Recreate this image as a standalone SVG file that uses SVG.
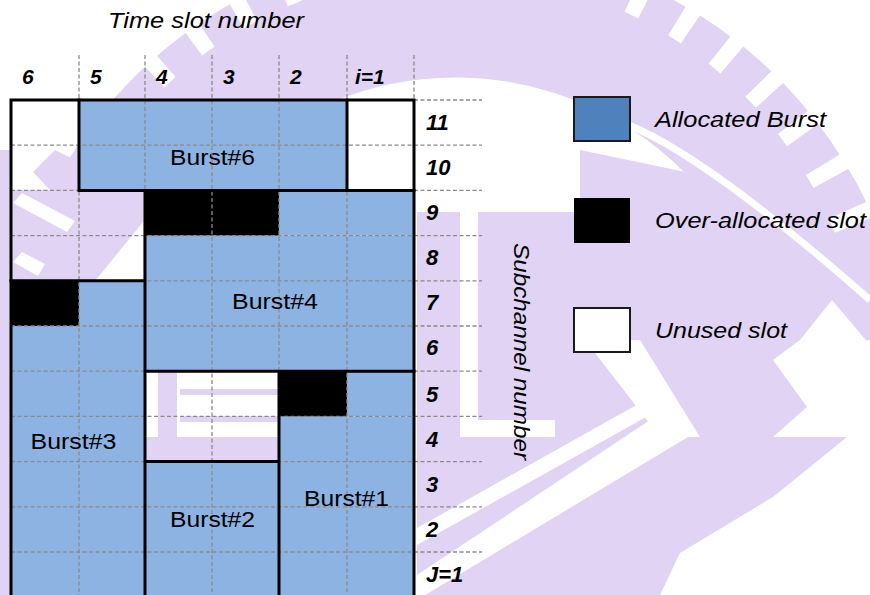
<svg xmlns="http://www.w3.org/2000/svg" width="870" height="595" viewBox="0 0 870 595">
<style>
.wm{fill:#e0d3f4}
.wmw{fill:#ffffff}
.blue{fill:#8db3e2}
.blk{fill:#000000}
.dash{stroke:#8a8a8a;stroke-width:1.3;stroke-dasharray:4 2.5;fill:none}
.thick{stroke:#000000;stroke-width:3;fill:none;stroke-linecap:square}
.hdr{font-family:"Liberation Sans",Arial,sans-serif;font-weight:bold;font-style:italic;font-size:21px;fill:#000}
.row{font-family:"Liberation Sans",Arial,sans-serif;font-weight:bold;font-style:italic;font-size:22px;fill:#000}
.lbl{font-family:"Liberation Sans",Arial,sans-serif;font-size:22px;fill:#000;text-anchor:middle}
.it{font-family:"Liberation Sans",Arial,sans-serif;font-style:italic;font-size:22px;fill:#000}
</style>
<rect width="870" height="595" fill="#ffffff"/>

<g id="watermark">
  <path d="M118.7,595.8 A389.5,389.5 0 1 1 832,300" fill="none" stroke="#e0d3f4" stroke-width="133"/>
  <path class="wm" d="M580,150 L700,175 L870,255 L870,345 L832,300 L720,212 L580,212 Z"/>
  <path d="M150,72 A436,436 0 0 1 860,240" fill="none" stroke="#ffffff" stroke-width="42" stroke-dasharray="16 36"/>
  <path d="M470,88 Q560,92 640,130 T870,300" fill="none" stroke="#ffffff" stroke-width="7"/>
  <path class="wm" d="M417,212 H720 L832,300 L800,340 L773,360 L807,407 L773,437 L847,437 L773,497 L680,553 L660,595 H417 Z"/>
  <rect class="wmw" x="460" y="212" width="18" height="225"/>
  <rect class="wmw" x="478" y="420" width="77" height="17"/>
  <polygon class="wmw" points="417,575 650,420 688,437 417,600"/>
  <polygon class="wmw" points="417,528 640,403 655,412 417,545"/>
  <polygon class="wmw" points="585,340 640,340 700,437 660,437"/>
  <polygon class="wmw" points="800,350 870,340 870,437 815,437"/>
  <rect class="wm" x="0" y="150" width="11" height="445"/>
  <rect class="wm" x="11" y="190" width="134" height="91"/>
  <polygon class="wmw" points="13,203 22,193 75,221 67,232"/>
  <polygon class="wmw" points="13,262 22,252 45,264 38,276"/>
  <polygon class="wmw" points="143,222 143,281 95,281"/>
  <polygon class="wm" points="33,172 55,150 79,162 79,190 50,190"/>
  <rect class="wm" x="158" y="371" width="19" height="91"/>
  <rect class="wm" x="180" y="389" width="99" height="6"/>
  <rect class="wm" x="180" y="416" width="99" height="6"/>
  <rect class="wm" x="145" y="437" width="134" height="25"/>
</g>

<g id="burst6">
  <rect class="blue" x="79" y="100" width="268" height="90.4"/>
  <text class="lbl" x="212.5" y="165" textLength="85" lengthAdjust="spacingAndGlyphs">Burst#6</text>
</g>
<g id="burst4">
  <rect class="blue" x="145" y="235.6" width="269" height="135.6"/>
  <rect class="blue" x="279" y="190.4" width="135" height="45.2"/>
</g>
<g id="burst3">
  <rect class="blue" x="11" y="280.8" width="134" height="316"/>
</g>
<g id="burst2">
  <rect class="blue" x="145" y="461.6" width="134" height="136"/>
</g>
<g id="burst1">
  <rect class="blue" x="279" y="416.4" width="135" height="181"/>
  <rect class="blue" x="347" y="371.2" width="67" height="45.2"/>
</g>
<g id="over-allocated">
  <rect class="blk" x="145" y="190.4" width="134" height="45.2"/>
  <rect class="blk" x="11" y="280.8" width="68" height="45.2"/>
  <rect class="blk" x="279" y="371.2" width="68" height="45.2"/>
</g>

<g id="connectors">
  <g class="dash">
    <path d="M79,55V597M145,55V597M212,55V597M279,55V597M347,55V597M414,55V100"/>
    <path d="M414,100H482M11,145.2H482M11,190.4H482M11,235.6H482M11,280.8H482M11,326H482M11,371.2H482M11,416.4H482M11,461.6H482M11,506.8H482M11,552H482"/>
  </g>
  <g class="thick">
    <path d="M11,597V100H414V597"/>
    <path d="M79,100V190.4H414M347,100V190.4"/>
    <path d="M11,280.8H145M145,190.4V597M145,371.2H414M145,461.6H279M279,371.2V597"/>
  </g>
</g>

<g id="labels">
  <text class="lbl" x="275" y="309" textLength="86" lengthAdjust="spacingAndGlyphs">Burst#4</text>
  <text class="lbl" x="73.5" y="449" textLength="86" lengthAdjust="spacingAndGlyphs">Burst#3</text>
  <text class="lbl" x="212.5" y="527" textLength="85" lengthAdjust="spacingAndGlyphs">Burst#2</text>
  <text class="lbl" x="346.5" y="506" textLength="85" lengthAdjust="spacingAndGlyphs">Burst#1</text>
</g>

<g id="time-axis">
  <text class="it" x="108" y="28" textLength="196" lengthAdjust="spacingAndGlyphs">Time slot number</text>
  <text class="hdr" x="22" y="84">6</text>
  <text class="hdr" x="90" y="84">5</text>
  <text class="hdr" x="156" y="84">4</text>
  <text class="hdr" x="223" y="84">3</text>
  <text class="hdr" x="290" y="84">2</text>
  <text class="hdr" x="355" y="84">i=1</text>
</g>

<g id="subchannel-axis">
  <text class="row" x="426" y="130">11</text>
  <text class="row" x="426" y="175">10</text>
  <text class="row" x="426" y="220">9</text>
  <text class="row" x="426" y="265">8</text>
  <text class="row" x="426" y="310">7</text>
  <text class="row" x="426" y="355">6</text>
  <text class="row" x="426" y="401.5">5</text>
  <text class="row" x="426" y="447">4</text>
  <text class="row" x="426" y="492">3</text>
  <text class="row" x="426" y="537">2</text>
  <text class="row" x="426" y="581.5">J=1</text>
  <text class="it" transform="translate(514,243) rotate(90)" textLength="217" lengthAdjust="spacingAndGlyphs">Subchannel number</text>
</g>

<g id="legend-allocated">
  <rect x="574" y="97" width="56" height="44" fill="#4f81bd" stroke="#1a1a1a" stroke-width="2"/>
  <text class="it" x="655" y="127" textLength="171" lengthAdjust="spacingAndGlyphs">Allocated Burst</text>
</g>
<g id="legend-over">
  <rect x="574" y="198" width="56" height="45" fill="#000000"/>
  <text class="it" x="655" y="228" textLength="211" lengthAdjust="spacingAndGlyphs">Over-allocated slot</text>
</g>
<g id="legend-unused">
  <rect x="574" y="308" width="56" height="44" fill="#ffffff" stroke="#1a1a1a" stroke-width="2"/>
  <text class="it" x="655" y="338" textLength="132" lengthAdjust="spacingAndGlyphs">Unused slot</text>
</g>
</svg>
